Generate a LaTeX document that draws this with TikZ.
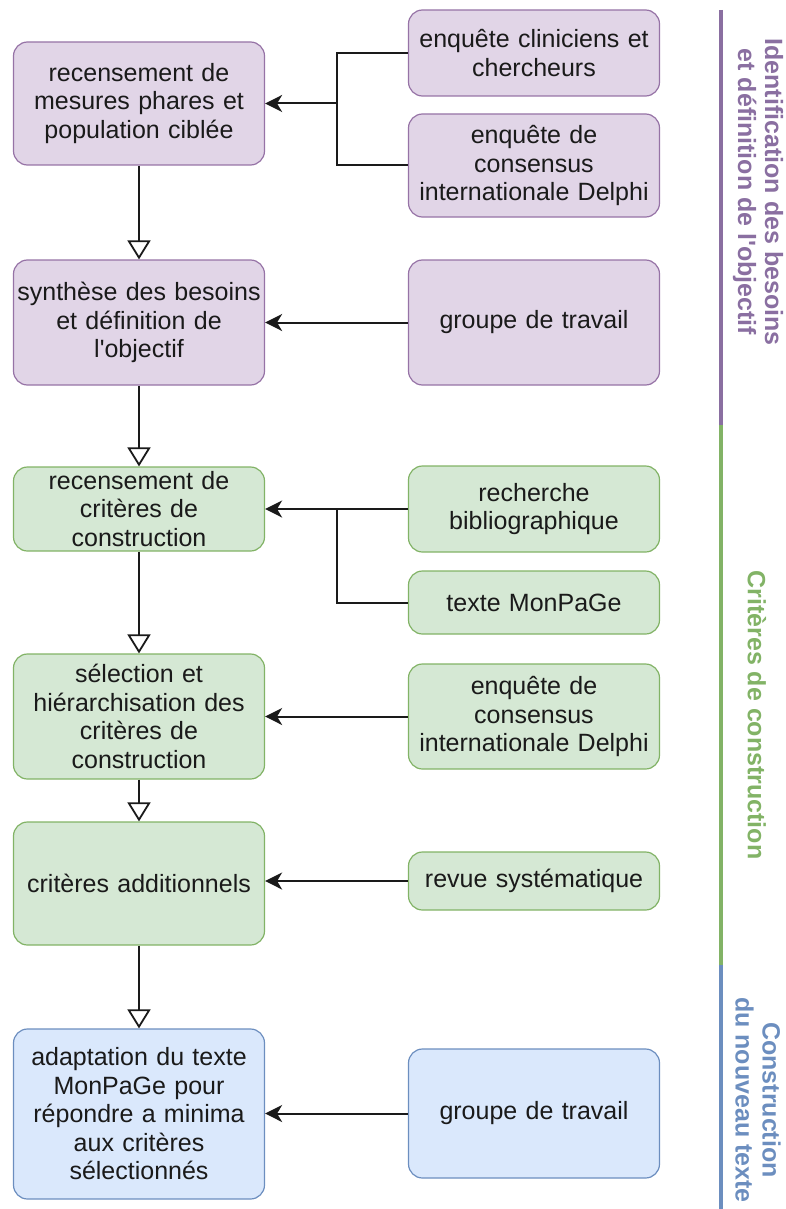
\documentclass[tikz,border=0pt]{standalone}
\usepackage{fontspec}
\setmainfont{Liberation Sans}
\usetikzlibrary{arrows.meta}
\definecolor{pfill}{HTML}{E1D5E7}\definecolor{pdraw}{HTML}{9673A6}
\definecolor{gfill}{HTML}{D5E8D4}\definecolor{gdraw}{HTML}{82B366}
\definecolor{bfill}{HTML}{DAE8FC}\definecolor{bdraw}{HTML}{6C8EBF}
\definecolor{plab}{HTML}{8A6FA1}
\definecolor{ink}{HTML}{1A1A1A}
\begin{document}
\begin{tikzpicture}[x=1pt,y=-1pt,
  box/.style={draw, rounded corners=14pt, line width=1.2pt, align=center,
    text width=249pt, inner xsep=1pt, inner ysep=0pt, minimum width=251pt,
    text=ink, font=\fontsize{25}{28.5}\selectfont},
  pbox/.style={box, fill=pfill, draw=pdraw},
  gbox/.style={box, fill=gfill, draw=gdraw},
  bbox/.style={box, fill=bfill, draw=bdraw},
  feed/.style={line width=2pt, draw=ink, -{Stealth[length=17pt,width=17pt,inset=5pt]}},
  link/.style={line width=2pt, draw=ink},
  flow/.style={line width=1.8pt, draw=ink, -{Triangle[open,fill=white,length=19pt,width=23pt]}},
  lab/.style={rotate=-90, align=center, font=\bfseries\fontsize{25}{27}\selectfont},
  bar/.style={line width=4pt}]
\useasboundingbox (0,0) rectangle (786,1209);
% left column
\node[pbox, minimum height=123pt] (b1) at (139,103.5) {recensement de\\mesures phares et\\population ciblée};
\node[pbox, minimum height=125pt] (b2) at (139,322.5) {synthèse des besoins\\et définition de\\l\textquotesingle objectif};
\node[gbox, minimum height=84pt] (b3) at (139,509) {recensement de\\critères de\\construction};
\node[gbox, minimum height=125pt] (b4) at (139,716.5) {sélection et\\hiérarchisation des\\critères de\\construction};
\node[gbox, minimum height=123pt] (b5) at (139,883.5) {critères additionnels};
\node[bbox, minimum height=170pt] (b6) at (139,1114) {adaptation du texte\\MonPaGe pour\\répondre a minima\\aux critères\\sélectionnés};
% right column
\node[pbox, minimum height=86pt] (r1) at (534,53) {enquête cliniciens et\\chercheurs};
\node[pbox, minimum height=103pt] (r2) at (534,165.5) {enquête de\\consensus\\internationale Delphi};
\node[pbox, minimum height=125pt] (r3) at (534,322.5) {groupe de travail};
\node[gbox, minimum height=86pt] (r4) at (534,509) {recherche\\bibliographique};
\node[gbox, minimum height=63pt] (r5) at (534,602.5) {texte MonPaGe};
\node[gbox, minimum height=105pt] (r6) at (534,716.5) {enquête de\\consensus\\internationale Delphi};
\node[gbox, minimum height=58pt] (r7) at (534,881) {revue systématique};
\node[bbox, minimum height=129pt] (r8) at (534,1113.5) {groupe de travail};
% connectors
\coordinate (j1) at (337,103.5);
\coordinate (j3) at (337,509);
\draw[link] (r1.west) -| (j1) |- (r2.west);
\draw[feed] (j1) -- (b1.east);
\draw[feed] (r3.west) -- (b2.east);
\draw[feed] (r4.west) -- (b3.east);
\draw[link] (j3) |- (r5.west);
\draw[feed] (r6.west) -- (b4.east);
\draw[feed] (r7.west) -- (b5.east |- r7.west);
\draw[feed] (r8.west) -- (b6.east |- r8.west);
\draw[flow] (b1.south) -- (b2.north);
\draw[flow] (b2.south) -- (b3.north);
\draw[flow] (b3.south) -- (b4.north);
\draw[flow] (b4.south) -- (b5.north);
\draw[flow] (b5.south) -- (b6.north);
% phase bars
\coordinate (p0) at (721,10);
\coordinate (p1) at (721,425);
\coordinate (p2) at (721,965);
\coordinate (p3) at (721,1209);
\draw[bar, draw=plab] (p0) -- (p1);
\draw[bar, draw=gdraw] (p1) -- (p2);
\draw[bar, draw=bdraw] (p2) -- (p3);
\node[lab, text=plab] (l1) at (758,192) {Identification des besoins\\et définition de l\textquotesingle objectif};
\node[lab, text=gdraw] (l2) at (757,715) {Critères de construction};
\node[lab, text=bdraw] (l3) at (758,1100) {Construction\\du nouveau texte};
\end{tikzpicture}
\end{document}
